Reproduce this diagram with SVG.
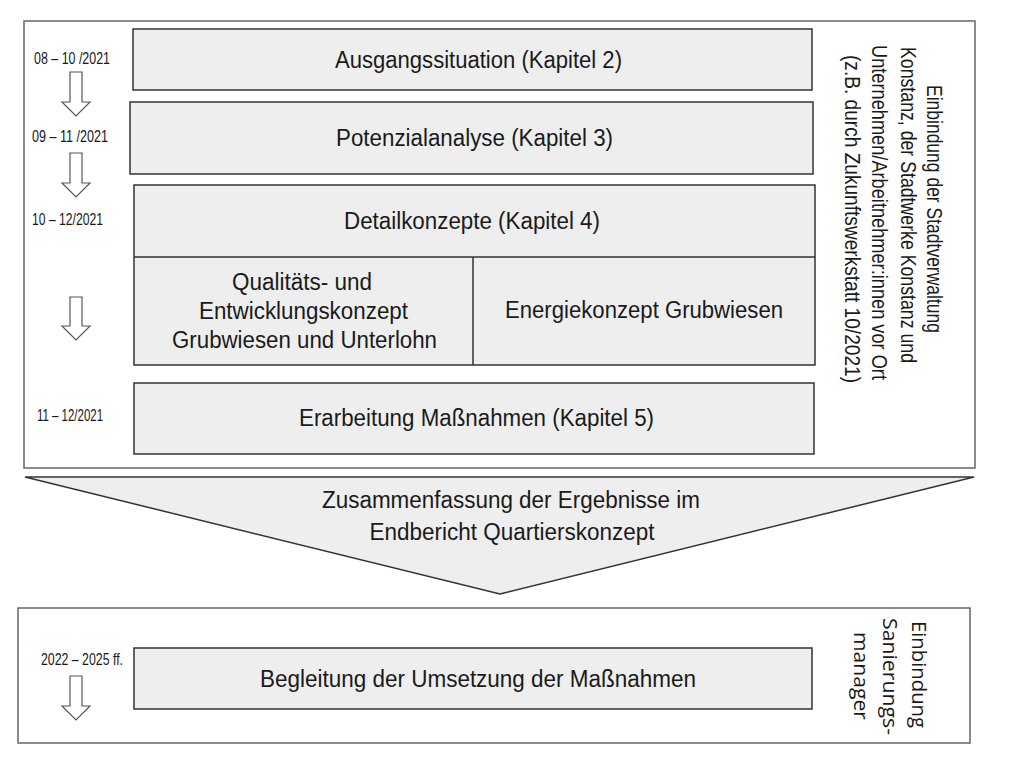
<svg xmlns="http://www.w3.org/2000/svg" width="1023" height="758" viewBox="0 0 1023 758">
<style>
.frame{fill:#fff;stroke:#666;stroke-width:1.5}
.box{fill:#eeeeee;stroke:#333;stroke-width:1.5}
.arr{fill:#fff;stroke:#555;stroke-width:1.2}
.t{font-family:"Liberation Sans Narrow","Liberation Sans",Arial,sans-serif;font-size:23px;fill:#1a1a1a}
.d{font-family:"Liberation Sans Narrow","Liberation Sans",Arial,sans-serif;font-size:17px;fill:#1a1a1a}
.v{font-family:"Liberation Sans Narrow","Liberation Sans",Arial,sans-serif;font-size:22px;fill:#1a1a1a}
.w{font-family:"Open Sans","Noto Sans",sans-serif;font-size:20px;fill:#1a1a1a}
</style>
<rect width="1023" height="758" fill="#fff"/>
<g id="frame-top"><rect class="frame" x="24" y="21" width="951" height="447"/></g>
<g id="frame-bottom"><rect class="frame" x="18" y="608" width="952" height="135"/></g>

<g id="ausgangssituation">
<rect class="box" x="133" y="29" width="679" height="61"/>
<text class="t" x="478.5" y="68" text-anchor="middle" textLength="287" lengthAdjust="spacingAndGlyphs">Ausgangssituation (Kapitel 2)</text>
</g>
<g id="potenzialanalyse">
<rect class="box" x="130" y="102" width="683" height="72"/>
<text class="t" x="474.5" y="146" text-anchor="middle" textLength="277" lengthAdjust="spacingAndGlyphs">Potenzialanalyse (Kapitel 3)</text>
</g>
<g id="detailkonzepte">
<rect class="box" x="134" y="185" width="681" height="180"/>
<line x1="134" y1="257" x2="815" y2="257" stroke="#333" stroke-width="1.5"/>
<line x1="473" y1="257" x2="473" y2="365" stroke="#333" stroke-width="1.5"/>
<text class="t" x="472" y="229" text-anchor="middle" textLength="256" lengthAdjust="spacingAndGlyphs">Detailkonzepte (Kapitel 4)</text>
</g>
<g id="qualitaetskonzept">
<text class="t" x="302" y="290" text-anchor="middle" textLength="140" lengthAdjust="spacingAndGlyphs">Qualitäts- und</text>
<text class="t" x="303.5" y="319" text-anchor="middle" textLength="209" lengthAdjust="spacingAndGlyphs">Entwicklungskonzept</text>
<text class="t" x="304.5" y="348" text-anchor="middle" textLength="265" lengthAdjust="spacingAndGlyphs">Grubwiesen und Unterlohn</text>
</g>
<g id="energiekonzept">
<text class="t" x="644" y="318" text-anchor="middle" textLength="278" lengthAdjust="spacingAndGlyphs">Energiekonzept Grubwiesen</text>
</g>
<g id="erarbeitung">
<rect class="box" x="134" y="383" width="680" height="71"/>
<text class="t" x="476.5" y="426" text-anchor="middle" textLength="355" lengthAdjust="spacingAndGlyphs">Erarbeitung Maßnahmen (Kapitel 5)</text>
</g>
<g id="zusammenfassung">
<polygon class="box" points="25,477 974,477 500,594"/>
<text class="t" x="511" y="508" text-anchor="middle" textLength="378" lengthAdjust="spacingAndGlyphs">Zusammenfassung der Ergebnisse im</text>
<text class="t" x="512" y="540" text-anchor="middle" textLength="285" lengthAdjust="spacingAndGlyphs">Endbericht Quartierskonzept</text>
</g>
<g id="begleitung">
<rect class="box" x="134" y="648" width="678" height="61"/>
<text class="t" x="478" y="687" text-anchor="middle" textLength="436" lengthAdjust="spacingAndGlyphs">Begleitung der Umsetzung der Maßnahmen</text>
</g>

<g id="einbindung-top">
<text class="v" transform="translate(927,85) rotate(90)" textLength="248" lengthAdjust="spacingAndGlyphs">Einbindung der Stadtverwaltung</text>
<text class="v" transform="translate(901,47) rotate(90)" textLength="316" lengthAdjust="spacingAndGlyphs">Konstanz, der Stadtwerke Konstanz und</text>
<text class="v" transform="translate(872,45) rotate(90)" textLength="335" lengthAdjust="spacingAndGlyphs">Unternehmen/Arbeitnehmer:innen vor Ort</text>
<text class="v" transform="translate(845,55) rotate(90)" textLength="328" lengthAdjust="spacingAndGlyphs">(z.B. durch Zukunftswerkstatt 10/2021)</text>
</g>
<g id="einbindung-bottom">
<text class="w" transform="translate(912,621) rotate(90)" textLength="107" lengthAdjust="spacingAndGlyphs">Einbindung</text>
<text class="w" transform="translate(883,618) rotate(90)" textLength="117" lengthAdjust="spacingAndGlyphs">Sanierungs-</text>
<text class="w" transform="translate(854,632) rotate(90)" textLength="88" lengthAdjust="spacingAndGlyphs">manager</text>
</g>

<g id="timeline">
<text class="d" x="34" y="64" textLength="76" lengthAdjust="spacingAndGlyphs">08 – 10 /2021</text>
<text class="d" x="32" y="142" textLength="76" lengthAdjust="spacingAndGlyphs">09 – 11 /2021</text>
<text class="d" x="32" y="225" textLength="71" lengthAdjust="spacingAndGlyphs">10 – 12/2021</text>
<text class="d" x="37" y="421" textLength="66" lengthAdjust="spacingAndGlyphs">11 – 12/2021</text>
<text class="d" x="41" y="665" textLength="82" lengthAdjust="spacingAndGlyphs">2022 – 2025 ff.</text>
</g>

<g id="connectors">
<polygon class="arr" points="70,72 82,72 82,102 90,102 76,116 62,102 70,102"/>
<polygon class="arr" points="70,153 82,153 82,183 90,183 76,197 62,183 70,183"/>
<polygon class="arr" points="70,297 82,297 82,326 90,326 76,340 62,326 70,326"/>
<polygon class="arr" points="70,676 82,676 82,706 90,706 76,720 62,706 70,706"/>
</g>
</svg>
